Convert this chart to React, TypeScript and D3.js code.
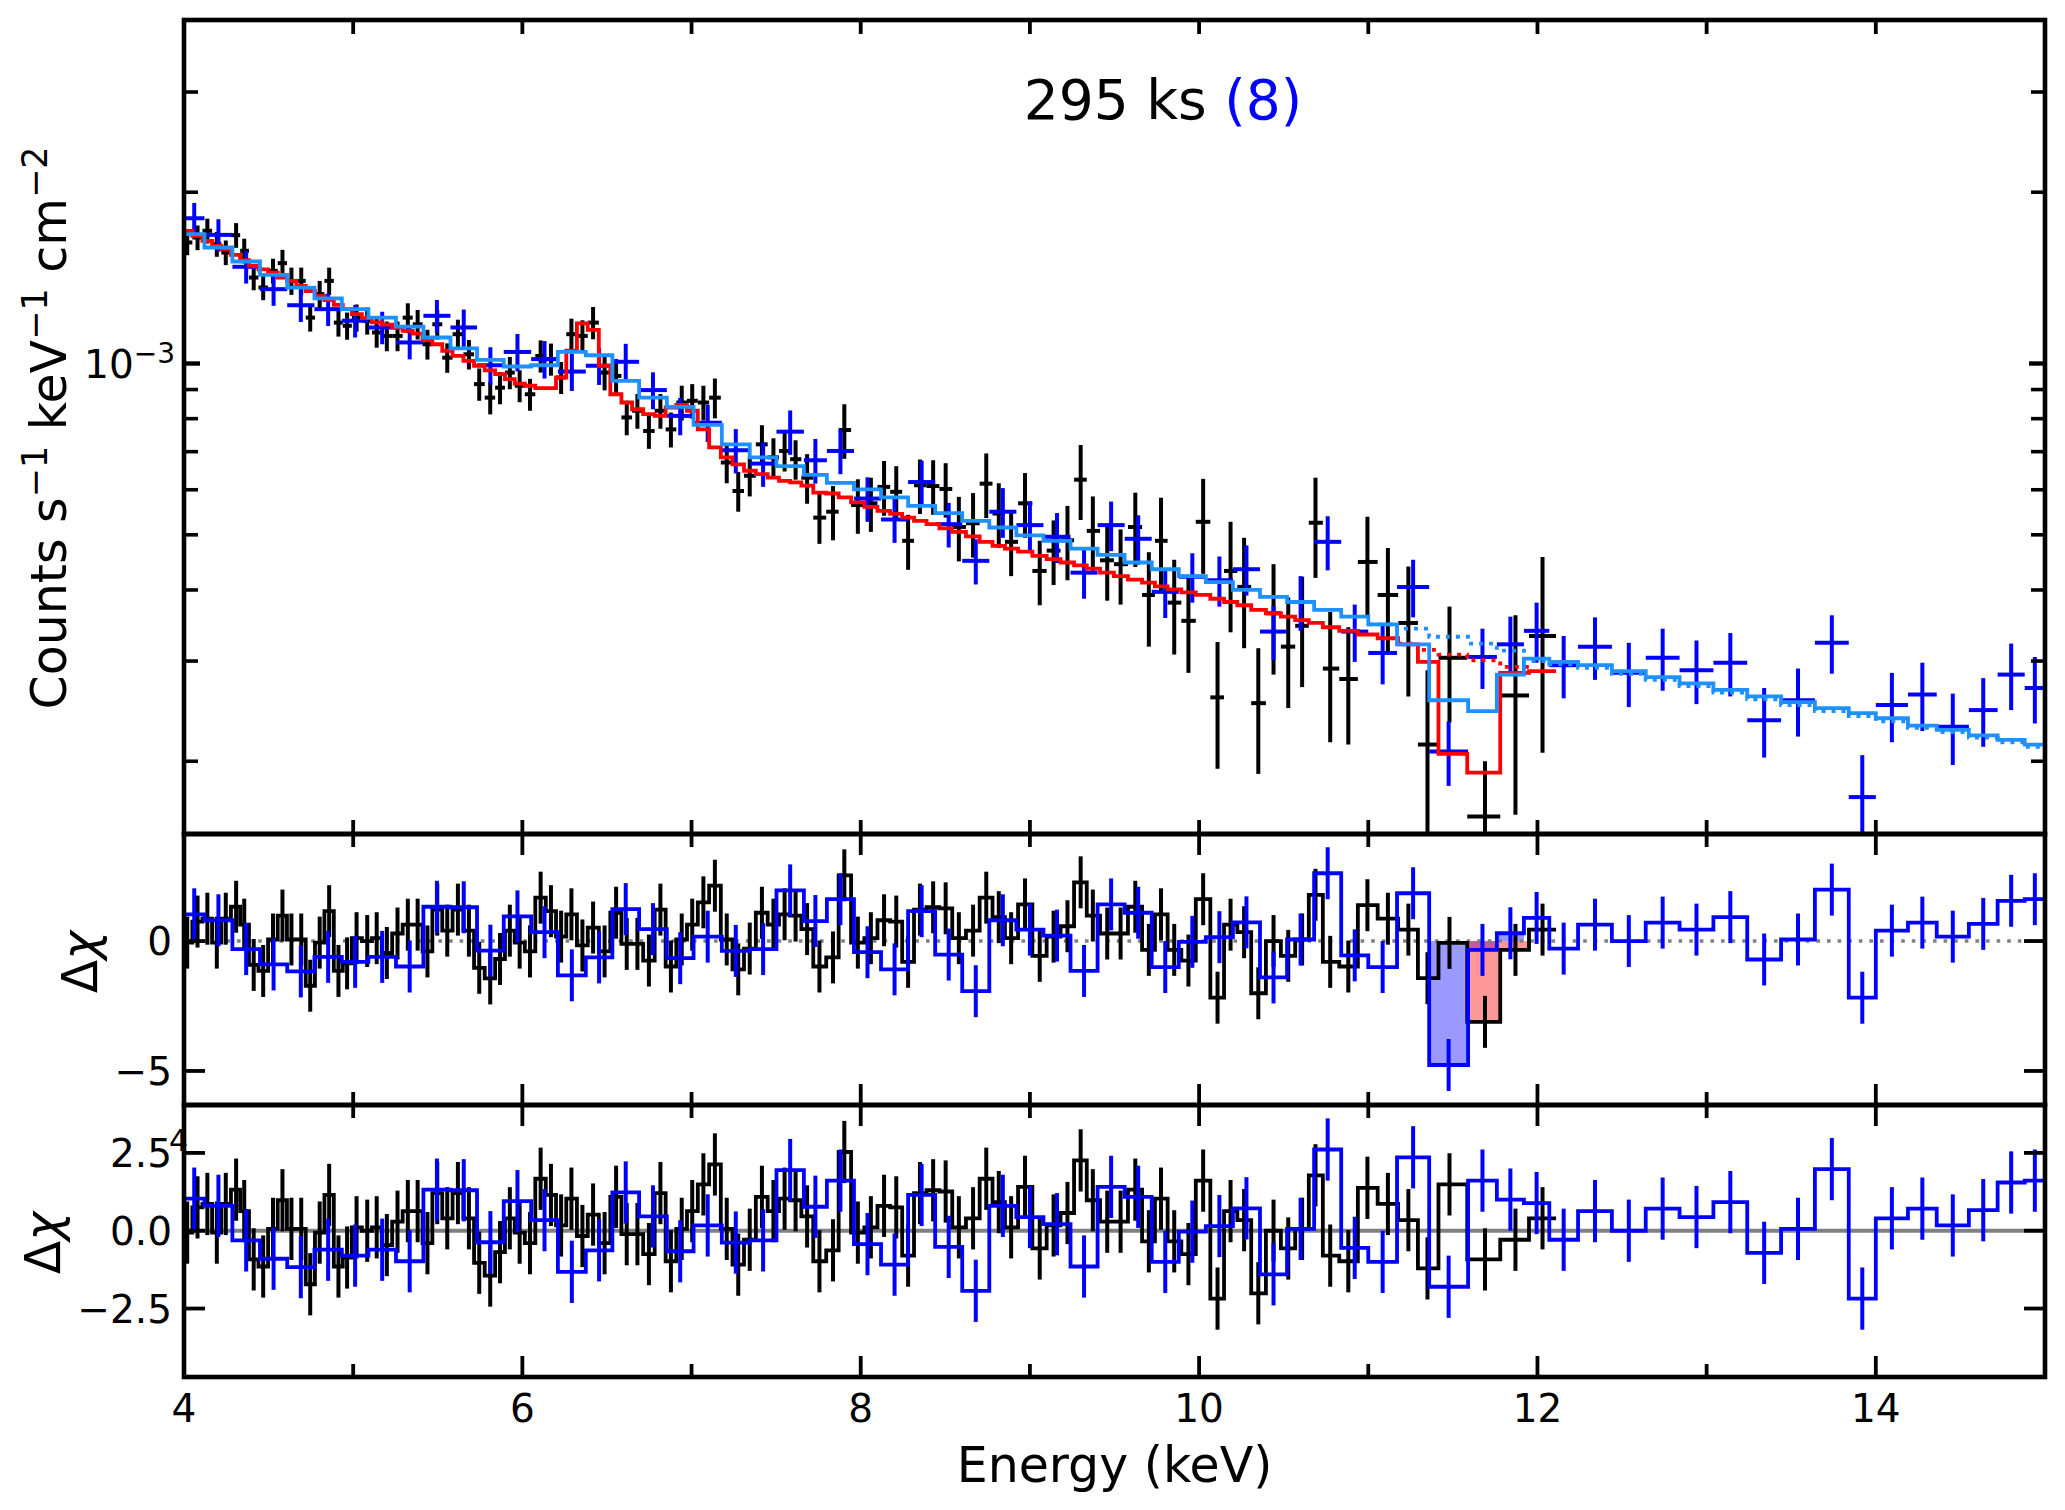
import { useEffect, useRef } from "react";
import * as d3 from "d3";

// panel geometry (px)
const W = 2065;
const H = 1510;
const LEFT = 184;
const RIGHT = 2045;
const MAIN_TOP = 20;
const MAIN_BOTTOM = 834;
const MID_BOTTOM = 1105;
const BOT_BOTTOM = 1377;

// black spectrum: bin centres (keV), flux and error (x 1e-4 counts/s/keV/cm2)
const blackEnergy = [
  4.019, 4.08, 4.138, 4.194, 4.247, 4.308, 4.356, 4.412, 4.468, 4.526,
  4.582, 4.635, 4.693, 4.746, 4.802, 4.858, 4.913, 4.964, 5.02, 5.083,
  5.139, 5.199, 5.262, 5.323, 5.381, 5.439, 5.497, 5.556, 5.619, 5.684,
  5.745, 5.81, 5.868, 5.926, 5.984, 6.045, 6.108, 6.169, 6.229, 6.29,
  6.355, 6.418, 6.486, 6.554, 6.617, 6.68, 6.748, 6.816, 6.878, 6.942,
  7.004, 7.07, 7.138, 7.208, 7.276, 7.344, 7.416, 7.484, 7.55, 7.615,
  7.683, 7.756, 7.836, 7.903, 7.983, 8.06, 8.138, 8.21, 8.28, 8.35,
  8.428, 8.502, 8.58, 8.664, 8.742, 8.816, 8.889, 8.971, 9.058, 9.14,
  9.222, 9.3, 9.372, 9.457, 9.536, 9.623, 9.703, 9.775, 9.853, 9.937,
  10.024, 10.109, 10.186, 10.266, 10.35, 10.44, 10.527, 10.609, 10.688, 10.775,
  10.882, 10.995, 11.116, 11.237, 11.35, 11.48, 11.69, 11.87, 12.03,
];
const blackFlux = [
  16.32, 16.65, 17.11, 16.21, 15.67, 16.81, 15.78, 14.16, 13.6, 14.55,
  15.01, 13.97, 13.97, 12.04, 13.24, 13.97, 11.8, 11.65, 12.04, 11.89,
  11.34, 11.18, 11.18, 12.04, 11.72, 10.81, 11.72, 10.24, 11.26, 10.38,
  9.2, 8.71, 9.07, 9.64, 9.14, 8.83, 10.31, 10.18, 9.45, 11.26,
  11.18, 11.8, 9.64, 9.51, 8.04, 8.26, 7.61, 8.26, 7.66, 8.54,
  8.6, 8.54, 8.71, 6.7, 5.97, 6.35, 7.21, 6.84, 7.02, 6.79,
  6.3, 5.36, 5.49, 7.64, 5.64, 5.68, 6.07, 5.95, 4.88, 6.11,
  6.09, 6.02, 5.16, 5.24, 6.15, 5.45, 4.86, 5.68, 4.32, 4.69,
  4.89, 6.25, 5.08, 4.51, 4.44, 5.16, 3.92, 4.88, 3.8, 3.53,
  5.27, 2.59, 4.32, 4.05, 2.53, 3.64, 3.18, 3.46, 5.25, 2.91,
  2.79, 4.48, 3.92, 3.5, 2.14, 3.04, 1.6, 2.61, 3.32,
];
const blackErr = [
  0.82, 0.83, 0.86, 0.81, 0.78, 0.84, 0.79, 0.71, 0.68, 0.73,
  0.83, 0.77, 0.77, 0.66, 0.73, 0.77, 0.65, 0.64, 0.66, 0.65,
  0.68, 0.67, 0.67, 0.72, 0.7, 0.65, 0.7, 0.61, 0.68, 0.62,
  0.6, 0.57, 0.59, 0.63, 0.59, 0.57, 0.67, 0.66, 0.61, 0.73,
  0.73, 0.77, 0.67, 0.67, 0.56, 0.58, 0.53, 0.58, 0.54, 0.6,
  0.6, 0.6, 0.7, 0.54, 0.48, 0.51, 0.58, 0.55, 0.56, 0.54,
  0.63, 0.54, 0.6, 0.84, 0.62, 0.62, 0.67, 0.65, 0.54, 0.67,
  0.67, 0.66, 0.67, 0.68, 0.8, 0.71, 0.63, 0.74, 0.56, 0.61,
  0.73, 0.94, 0.76, 0.68, 0.67, 0.77, 0.74, 0.93, 0.72, 0.67,
  1.0, 0.65, 0.95, 0.89, 0.63, 0.8, 0.7, 0.76, 1.05, 0.75,
  0.65, 0.9, 0.82, 0.9, 0.75, 0.7, 0.4, 1.0, 1.25,
];
// model folded with the black bins (red), with lines
const redModel = [
  17.11, 16.76, 16.42, 16.09, 15.88, 15.52, 15.19, 14.84, 14.64, 14.45,
  14.16, 13.97, 13.69, 13.41, 13.15, 12.92, 12.68, 12.46, 12.21, 12.02,
  11.81, 11.7, 11.57, 11.41, 11.29, 10.99, 10.81, 10.53, 10.31, 10.11,
  9.91, 9.73, 9.58, 9.39, 9.22, 9.14, 9.05, 9.05, 9.45, 10.53,
  11.76, 11.46, 9.91, 8.83, 8.54, 8.31, 8.15, 8.09, 8.37, 8.46,
  8.26, 7.66, 7.12, 6.84, 6.65, 6.48, 6.39, 6.3, 6.22, 6.18,
  6.1, 5.93, 5.91, 5.82, 5.7, 5.6, 5.51, 5.44, 5.36, 5.29,
  5.22, 5.13, 5.06, 4.97, 4.86, 4.78, 4.73, 4.67, 4.59, 4.53,
  4.47, 4.42, 4.36, 4.29, 4.23, 4.17, 4.12, 4.06, 4.01, 3.96,
  3.92, 3.86, 3.81, 3.76, 3.69, 3.64, 3.59, 3.54, 3.5, 3.44,
  3.39, 3.34, 3.29, 3.21, 2.99, 2.06, 1.91, 2.86, 2.88,
];
// continuum only, black bins 104-108
const redContinuumStart = 103;
const redContinuum = [3.22, 3.14, 3.08, 3.01, 2.93];

// blue spectrum: bin edges (keV), flux and error (x 1e-4)
const blueEdges = [
  4.0, 4.121, 4.286, 4.449, 4.61, 4.771, 4.933, 5.09, 5.253, 5.415,
  5.575, 5.732, 5.89, 6.052, 6.21, 6.375, 6.532, 6.69, 6.854, 7.012,
  7.179, 7.344, 7.502, 7.664, 7.8, 7.96, 8.12, 8.28, 8.44, 8.6,
  8.76, 8.92, 9.08, 9.24, 9.4, 9.56, 9.72, 9.88, 10.04, 10.2,
  10.36, 10.52, 10.68, 10.84, 11.0, 11.17, 11.36, 11.59, 11.76, 11.92,
  12.07, 12.24, 12.44, 12.64, 12.84, 13.04, 13.24, 13.44, 13.64, 13.84,
  14.0, 14.19, 14.36, 14.55, 14.72, 14.88, 15.0,
];
const blueFlux = [
  18.0, 16.83, 14.79, 13.51, 12.66, 12.46, 11.89, 11.57, 10.89, 12.13,
  11.57, 9.93, 10.48, 10.18, 9.68, 9.91, 10.07, 8.98, 8.09, 7.87,
  7.04, 6.67, 7.59, 6.76, 7.02, 5.79, 5.32, 6.19, 5.22, 4.5,
  5.49, 5.2, 4.96, 4.29, 5.2, 4.92, 3.97, 4.22, 4.16, 4.35,
  3.38, 3.81, 4.86, 3.38, 3.1, 4.05, 2.08, 3.05, 3.21, 3.39,
  2.95, 3.18, 2.86, 3.04, 2.89, 2.98, 2.36, 2.56, 3.23, 1.73,
  2.51, 2.62, 2.3, 2.46, 2.84, 2.69,
];
const blueErr = [
  1.15, 1.1, 0.97, 0.88, 0.83, 0.82, 0.78, 0.76, 0.72, 0.8,
  0.87, 0.75, 0.79, 0.77, 0.73, 0.74, 0.76, 0.67, 0.61, 0.59,
  0.63, 0.6, 0.68, 0.61, 0.63, 0.52, 0.48, 0.56, 0.47, 0.41,
  0.55, 0.52, 0.5, 0.43, 0.52, 0.49, 0.4, 0.42, 0.42, 0.44,
  0.37, 0.42, 0.53, 0.39, 0.37, 0.47, 0.27, 0.37, 0.38, 0.41,
  0.37, 0.4, 0.37, 0.38, 0.37, 0.38, 0.33, 0.35, 0.38, 0.32,
  0.35, 0.36, 0.33, 0.34, 0.38, 0.36,
];
// model folded with the blue bins (light blue), with lines
const blueModel = [
  16.88, 15.99, 15.11, 14.32, 13.6, 13.02, 12.46, 12.04, 11.61, 11.11,
  10.63, 10.15, 9.88, 9.93, 10.48, 10.34, 9.32, 8.71, 8.39, 7.8,
  7.21, 6.84, 6.6, 6.37, 6.17, 6.01, 5.82, 5.62, 5.46, 5.29,
  5.15, 4.99, 4.88, 4.73, 4.61, 4.47, 4.35, 4.23, 4.13, 4.0,
  3.89, 3.81, 3.69, 3.59, 3.48, 3.21, 2.56, 2.45, 2.84, 3.03,
  2.99, 2.95, 2.88, 2.81, 2.74, 2.67, 2.6, 2.54, 2.48, 2.43,
  2.38, 2.31, 2.27, 2.22, 2.18, 2.14,
];
// continuum only, blue bins 45-66
const blueContinuumStart = 44;
const blueContinuum = [
  3.48, 3.42, 3.31, 3.22, 3.13, 3.0, 2.96, 2.92, 2.85, 2.78, 2.71,
  2.64, 2.57, 2.51, 2.45, 2.4, 2.35, 2.29, 2.25, 2.2, 2.16, 2.12,
];

// residuals (sigma) against the model with lines (lower panel)
const blackResid = [
  -0.06, 0.75, 0.86, -0.06, 0.86, 1.32, 0.63, -0.92, -1.15, 0.06,
  0.98, 0.06, 0.06, -1.72, -0.06, 1.15, -1.15, -0.86, 0.11, 0.0,
  0.11, -0.46, 0.29, 0.63, 0.63, -0.4, 1.21, 0.4, 1.21, 0.4,
  -1.03, -1.44, -0.69, 0.4, -0.06, -0.4, 1.67, 1.15, 0.17, 1.03,
  -0.17, 0.52, -0.4, 1.09, -0.11, -0.11, -0.75, 1.21, -0.98, 0.06,
  0.63, 1.49, 2.13, 0.06, -1.09, -0.29, 1.09, 0.63, 1.03, 0.98,
  0.46, -0.98, -0.63, 2.53, -0.06, 0.11, 0.8, 0.75, -0.8, 1.21,
  1.3, 1.26, 0.11, 0.4, 1.67, 0.92, 0.11, 1.41, -0.57, 0.17,
  0.57, 2.26, 0.98, 0.29, 0.29, 1.32, -0.34, 1.03, -0.34, -0.75,
  1.61, -2.18, 0.63, 0.34, -2.01, 0.0, -0.57, 0.06, 1.78, -0.8,
  -0.98, 1.38, 0.86, 0.34, -1.21, 1.49, -0.92, -0.29, 0.4,
];
const blueResid = [
  1.03, 0.8, -0.31, -0.9, -1.17, -0.61, -0.8, -0.61, -0.98, 1.32,
  1.3, -0.37, 0.95, 0.34, -1.32, -0.63, 1.23, 0.46, -0.66, 0.17,
  -0.38, -0.31, 1.95, 0.77, 1.61, -0.43, -1.09, 1.15, -0.52, -1.93,
  0.8, 0.44, 0.21, -1.15, 1.41, 1.09, -1.0, -0.03, 0.15, 0.72,
  -1.4, 0.06, 2.61, -0.55, -1.0, 2.36, -1.8, 1.61, 1.0, 0.89,
  -0.29, 0.63, 0.0, 0.71, 0.44, 0.92, -0.71, 0.06, 1.98, -2.18,
  0.4, 0.71, 0.17, 0.66, 1.55, 1.61,
];
// residuals against the continuum (middle panel) where they differ
const blackResidMidStart = 103;
const blackResidMid = [0.44, -1.43, -0.07, -3.11, -0.34, 0.44];
const blueResidMidStart = 45;
const blueResidMid = [1.84, -4.77, -0.34, 0.3];
// bins shaded in the middle panel
const blackFillBins = [105, 106, 107];
const blueFillBins = [46, 47, 48];

// ticks
const xTicks = d3.range(4, 16);
const xLabels = [4, 6, 8, 10, 12, 14];
const mainYTicks = [2, 3, 4, 5, 6, 7, 8, 9, 10, 20, 30];
const midYTicks = [-5, 0];
const botYTicks = [-2.5, 0, 2.5];

const FONT = "DejaVu Sans, Verdana, sans-serif";
const BLUE = "#0000ff";
const LIGHT = "#1e90ff";
const RED = "#ff0000";
const BAR_W = 4;
const LINE_W = 3.8;
const TICK_FONT = 39;

const edgesFrom = (c: number[]) => {
  const e = [c[0] - (c[1] - c[0]) / 2];
  for (let i = 1; i < c.length; i++) e.push((c[i - 1] + c[i]) / 2);
  e.push(c[c.length - 1] + (c[c.length - 1] - c[c.length - 2]) / 2);
  return e;
};

const fmt = (v: number, digits: number) =>
  (v < 0 ? "\u2212" : "") + Math.abs(v).toFixed(digits);

const App = () => {
  const svgRef = useRef<SVGSVGElement | null>(null);

  useEffect(() => {
    const svg = d3.select(svgRef.current);
    svg.selectAll("*").remove();

    const x = d3.scaleLinear().domain([4, 15]).range([LEFT, RIGHT]);
    const yMain = d3.scaleLog().domain([1.49, 40.15]).range([MAIN_BOTTOM, MAIN_TOP]);
    const yMid = d3.scaleLinear().domain([-6.31, 4.12]).range([MID_BOTTOM, MAIN_BOTTOM]);
    const yBot = d3.scaleLinear().domain([-4.7, 4.04]).range([BOT_BOTTOM, MID_BOTTOM]);

    const blackEdges = edgesFrom(blackEnergy);
    const blueCentre = blueFlux.map((_, i) => (blueEdges[i] + blueEdges[i + 1]) / 2);

    const defs = svg.append("defs");
    const clips: [string, number, number][] = [
      ["clip-main", MAIN_TOP, MAIN_BOTTOM],
      ["clip-mid", MAIN_BOTTOM, MID_BOTTOM],
      ["clip-bot", MID_BOTTOM, BOT_BOTTOM],
    ];
    clips.forEach(([id, y0, y1]) => {
      defs
        .append("clipPath")
        .attr("id", id)
        .append("rect")
        .attr("x", LEFT)
        .attr("y", y0)
        .attr("width", RIGHT - LEFT)
        .attr("height", y1 - y0);
    });

    const step = (
      edges: number[],
      values: number[],
      ys: (v: number) => number
    ) => {
      const pts: [number, number][] = values.map((v, i) => [edges[i], v]);
      pts.push([edges[values.length], values[values.length - 1]]);
      return d3
        .line<[number, number]>()
        .x((d) => x(d[0]))
        .y((d) => ys(d[1]))
        .curve(d3.curveStepAfter)(pts);
    };

    // ---------- main panel ----------
    const gm = svg.append("g").attr("clip-path", "url(#clip-main)");
    const lo = (v: number) => Math.max(v, 0.5);

    const drawCrosses = (
      g: d3.Selection<SVGGElement, unknown, null, undefined>,
      centres: number[],
      edges: number[],
      flux: number[],
      err: number[],
      colour: string
    ) => {
      const idx = d3.range(flux.length);
      g.append("g")
        .selectAll("line")
        .data(idx)
        .join("line")
        .attr("x1", (i) => x(centres[i]))
        .attr("x2", (i) => x(centres[i]))
        .attr("y1", (i) => yMain(lo(flux[i] - err[i])))
        .attr("y2", (i) => yMain(flux[i] + err[i]))
        .attr("stroke", colour)
        .attr("stroke-width", BAR_W);
      g.append("g")
        .selectAll("line")
        .data(idx)
        .join("line")
        .attr("x1", (i) => x(edges[i]))
        .attr("x2", (i) => x(edges[i + 1]))
        .attr("y1", (i) => yMain(flux[i]))
        .attr("y2", (i) => yMain(flux[i]))
        .attr("stroke", colour)
        .attr("stroke-width", BAR_W);
    };

    drawCrosses(gm, blackEnergy, blackEdges, blackFlux, blackErr, "#000");
    drawCrosses(gm, blueCentre, blueEdges, blueFlux, blueErr, BLUE);

    gm.append("path")
      .attr("d", step(blackEdges, redModel, yMain))
      .attr("fill", "none")
      .attr("stroke", RED)
      .attr("stroke-width", LINE_W);
    gm.append("path")
      .attr(
        "d",
        step(
          blackEdges.slice(redContinuumStart, redContinuumStart + redContinuum.length + 1),
          redContinuum,
          yMain
        )
      )
      .attr("fill", "none")
      .attr("stroke", RED)
      .attr("stroke-width", LINE_W)
      .attr("stroke-dasharray", "4,6");
    gm.append("path")
      .attr("d", step(blueEdges, blueModel, yMain))
      .attr("fill", "none")
      .attr("stroke", LIGHT)
      .attr("stroke-width", LINE_W);
    gm.append("path")
      .attr(
        "d",
        step(
          blueEdges.slice(blueContinuumStart, blueContinuumStart + blueContinuum.length + 1),
          blueContinuum,
          yMain
        )
      )
      .attr("fill", "none")
      .attr("stroke", LIGHT)
      .attr("stroke-width", LINE_W)
      .attr("stroke-dasharray", "4,6");

    // ---------- residual panels ----------
    const drawResid = (
      clipId: string,
      ys: d3.ScaleLinear<number, number>,
      bRes: number[],
      uRes: number[],
      dotted: boolean,
      fills: boolean
    ) => {
      const g = svg.append("g").attr("clip-path", `url(#${clipId})`);
      if (fills) {
        g.selectAll("rect.ub")
          .data(blueFillBins)
          .join("rect")
          .attr("x", (i) => x(blueEdges[i]))
          .attr("width", (i) => x(blueEdges[i + 1]) - x(blueEdges[i]))
          .attr("y", (i) => Math.min(ys(0), ys(uRes[i])))
          .attr("height", (i) => Math.abs(ys(uRes[i]) - ys(0)))
          .attr("fill", BLUE)
          .attr("fill-opacity", 0.4);
        g.selectAll("rect.bb")
          .data(blackFillBins)
          .join("rect")
          .attr("x", (i) => x(blackEdges[i]))
          .attr("width", (i) => x(blackEdges[i + 1]) - x(blackEdges[i]))
          .attr("y", (i) => Math.min(ys(0), ys(bRes[i])))
          .attr("height", (i) => Math.abs(ys(bRes[i]) - ys(0)))
          .attr("fill", RED)
          .attr("fill-opacity", 0.4);
      }
      g.append("line")
        .attr("x1", LEFT)
        .attr("x2", RIGHT)
        .attr("y1", ys(0))
        .attr("y2", ys(0))
        .attr("stroke", "#808080")
        .attr("stroke-width", dotted ? 3.6 : 3.8)
        .attr("stroke-dasharray", dotted ? "3.6,7" : null);

      const series: [number[], number[], number[], string][] = [
        [blackEnergy, blackEdges, bRes, "#000"],
        [blueCentre, blueEdges, uRes, BLUE],
      ];
      series.forEach(([centres, edges, res, colour]) => {
        g.append("path")
          .attr("d", step(edges, res, ys))
          .attr("fill", "none")
          .attr("stroke", colour)
          .attr("stroke-width", LINE_W);
        g.append("g")
          .selectAll("line")
          .data(d3.range(res.length))
          .join("line")
          .attr("x1", (i) => x(centres[i]))
          .attr("x2", (i) => x(centres[i]))
          .attr("y1", (i) => ys(res[i] - 1))
          .attr("y2", (i) => ys(res[i] + 1))
          .attr("stroke", colour)
          .attr("stroke-width", BAR_W);
      });
    };

    const blackMid = blackResid.slice();
    blackResidMid.forEach((v, k) => (blackMid[blackResidMidStart + k] = v));
    const blueMid = blueResid.slice();
    blueResidMid.forEach((v, k) => (blueMid[blueResidMidStart + k] = v));

    drawResid("clip-mid", yMid, blackMid, blueMid, true, true);
    drawResid("clip-bot", yBot, blackResid, blueResid, false, false);

    // ---------- text (drawn under the frames) ----------
    const txt = svg
      .append("g")
      .attr("font-family", FONT)
      .attr("fill", "#000");

    // stray tick label peeking above "2.5"
    txt
      .append("text")
      .attr("x", LEFT - 15)
      .attr("y", MID_BOTTOM + 46)
      .attr("font-size", 30)
      .text("4");

    xLabels.forEach((t) => {
      txt
        .append("text")
        .attr("x", x(t))
        .attr("y", BOT_BOTTOM + 45)
        .attr("text-anchor", "middle")
        .attr("font-size", TICK_FONT)
        .text(String(t));
    });

    const decade = txt
      .append("text")
      .attr("x", LEFT - 9)
      .attr("y", yMain(10) + 14)
      .attr("text-anchor", "end");
    decade.append("tspan").attr("font-size", TICK_FONT).text("10");
    decade.append("tspan").attr("font-size", 28).attr("dy", -15).text("\u22123");

    midYTicks.forEach((t) => {
      txt
        .append("text")
        .attr("x", LEFT - 12)
        .attr("y", yMid(t) + 14)
        .attr("text-anchor", "end")
        .attr("font-size", TICK_FONT)
        .text(fmt(t, 0));
    });
    botYTicks.forEach((t) => {
      txt
        .append("text")
        .attr("x", LEFT - 12)
        .attr("y", yBot(t) + 14)
        .attr("text-anchor", "end")
        .attr("font-size", TICK_FONT)
        .text(fmt(t, 1));
    });

    txt
      .append("text")
      .attr("x", (LEFT + RIGHT) / 2)
      .attr("y", 1482)
      .attr("text-anchor", "middle")
      .attr("font-size", 49)
      .text("Energy (keV)");

    const ylab = txt
      .append("text")
      .attr("transform", "translate(66,428) rotate(-90)")
      .attr("text-anchor", "middle")
      .attr("font-size", 49)
      .style("white-space", "pre");
    const parts: [string, boolean][] = [
      ["Counts s", false],
      ["\u22121", true],
      [" keV", false],
      ["\u22121", true],
      [" cm", false],
      ["\u22122", true],
    ];
    parts.forEach(([s, sup]) => {
      ylab
        .append("tspan")
        .attr("font-size", sup ? 35 : 49)
        .attr("dy", sup ? -19 : 19)
        .text(s);
    });
    ylab.select("tspan").attr("dy", 0);

    const deltaChi = (cx: number, cy: number) => {
      const t = txt
        .append("text")
        .attr("transform", `translate(${cx},${cy}) rotate(-90)`)
        .attr("text-anchor", "middle")
        .attr("font-size", 49);
      t.append("tspan").text("\u0394");
      t.append("tspan").attr("font-style", "italic").text("\u03c7");
    };
    deltaChi(97, 962);
    deltaChi(60, 1243);

    const title = txt
      .append("text")
      .attr("x", 1163)
      .attr("y", 119)
      .attr("text-anchor", "middle")
      .attr("font-size", 55)
      .style("white-space", "pre");
    title.append("tspan").text("295 ks ");
    title.append("tspan").attr("fill", BLUE).text("(8)");

    // ---------- frames and ticks ----------
    const axes = svg.append("g").attr("stroke", "#000");
    const tick = (x1: number, y1: number, x2: number, y2: number, w = 3.8) =>
      axes
        .append("line")
        .attr("x1", x1)
        .attr("y1", y1)
        .attr("x2", x2)
        .attr("y2", y2)
        .attr("stroke-width", w);

    xTicks.forEach((t) => {
      tick(x(t), MAIN_TOP, x(t), MAIN_TOP + 14);
      tick(x(t), MAIN_BOTTOM, x(t), MAIN_BOTTOM - 14);
      const len = t % 2 === 0 ? 21 : 13;
      [
        [MAIN_BOTTOM, MID_BOTTOM],
        [MID_BOTTOM, BOT_BOTTOM],
      ].forEach(([top, bottom]) => {
        tick(x(t), top, x(t), top + len);
        tick(x(t), bottom, x(t), bottom - len);
      });
    });
    mainYTicks.forEach((t) => {
      const len = t === 10 ? 16 : 14;
      tick(LEFT, yMain(t), LEFT + len, yMain(t), t === 10 ? 4.4 : 3.6);
      tick(RIGHT, yMain(t), RIGHT - len, yMain(t), t === 10 ? 4.4 : 3.6);
    });
    midYTicks.forEach((t) => {
      tick(LEFT, yMid(t), LEFT + 21, yMid(t));
      tick(RIGHT, yMid(t), RIGHT - 21, yMid(t));
    });
    botYTicks.forEach((t) => {
      tick(LEFT, yBot(t), LEFT + 21, yBot(t));
      tick(RIGHT, yBot(t), RIGHT - 21, yBot(t));
    });

    [
      [MAIN_TOP, MAIN_BOTTOM],
      [MAIN_BOTTOM, MID_BOTTOM],
      [MID_BOTTOM, BOT_BOTTOM],
    ].forEach(([top, bottom]) => {
      axes
        .append("rect")
        .attr("x", LEFT)
        .attr("y", top)
        .attr("width", RIGHT - LEFT)
        .attr("height", bottom - top)
        .attr("fill", "none")
        .attr("stroke-width", 4.6);
    });
  }, []);

  return (
    <svg
      ref={svgRef}
      role="img"
      aria-label="X-ray spectrum with residuals"
      width={W}
      height={H}
      viewBox={`0 0 ${W} ${H}`}
      style={{ position: "absolute", left: 0, top: 0, background: "#fff" }}
    />
  );
};

export default App;
